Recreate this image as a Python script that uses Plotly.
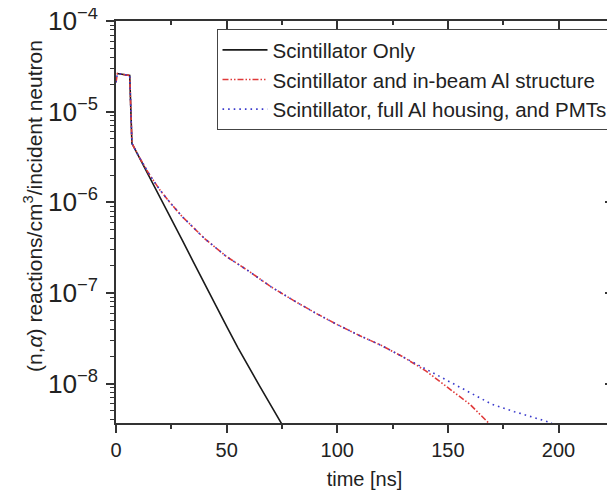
import plotly.graph_objects as go

# ---- data ----
t_only = [0.5, 3.0, 6.2, 7.2, 10, 15, 20, 25, 30, 35, 40, 45, 50, 55, 60, 65, 70, 75]
y_only = [2.63e-5, 2.58e-5, 2.51e-5, 4.47e-6, 3.31e-6, 1.95e-6, 1.15e-6, 6.61e-7, 3.80e-7,
          2.19e-7, 1.26e-7, 7.24e-8, 4.27e-8, 2.51e-8, 1.51e-8, 9.33e-9, 5.75e-9, 3.55e-9]

t_inbeam = [0.0, 0.6, 3.0, 6.2, 7.2, 10, 15, 20, 25, 30, 35, 40, 45, 50, 60, 70, 80, 90, 100,
            110, 120, 130, 140, 150, 160, 168.4]
y_inbeam = [2.1e-5, 2.63e-5, 2.58e-5, 2.51e-5, 4.47e-6, 3.31e-6, 2.04e-6, 1.35e-6, 9.55e-7,
            6.92e-7, 5.25e-7, 3.98e-7, 3.16e-7, 2.51e-7, 1.74e-7, 1.17e-7, 8.32e-8, 6.03e-8,
            4.47e-8, 3.39e-8, 2.63e-8, 1.95e-8, 1.38e-8, 9.12e-9, 5.89e-9, 3.67e-9]

t_full = [0.0, 0.6, 3.0, 6.2, 7.2, 10, 15, 20, 25, 30, 35, 40, 45, 50, 60, 70, 80, 90, 100,
          110, 120, 130, 140, 150, 160, 170, 180, 190, 197]
y_full = [2.1e-5, 2.63e-5, 2.58e-5, 2.51e-5, 4.47e-6, 3.31e-6, 2.04e-6, 1.35e-6, 9.55e-7,
          6.92e-7, 5.25e-7, 3.98e-7, 3.16e-7, 2.51e-7, 1.74e-7, 1.17e-7, 8.32e-8, 6.03e-8,
          4.47e-8, 3.39e-8, 2.63e-8, 1.95e-8, 1.45e-8, 1.07e-8, 7.94e-9, 5.89e-9, 4.90e-9,
          4.17e-9, 3.67e-9]

names = ["Scintillator Only",
         "Scintillator and in-beam Al structure",
         "Scintillator, full Al housing, and PMTs"]

x_range = [0, 224.6]
y_range_log = [-8.435, -4]
x_ticks = [0, 50, 100, 150, 200]
y_title = "(n,<i>α</i>) reactions/cm<sup>3</sup>/incident neutron"

FONT = "Liberation Sans, Arial, sans-serif"
AX = "#333333"

fig = go.Figure()
fig.add_trace(go.Scatter(x=t_only, y=y_only, mode="lines", name=names[0],
                         line=dict(color="#1a1a1a", width=1.6)))
fig.add_trace(go.Scatter(x=t_inbeam, y=y_inbeam, mode="lines", name=names[1],
                         line=dict(color="#e03a3a", width=1.6,
                                   dash="6px,2px,1.5px,2px,1.5px,2px")))
fig.add_trace(go.Scatter(x=t_full, y=y_full, mode="lines", name=names[2],
                         line=dict(color="#3a3acc", width=1.6, dash="1.6px,4px")))
# invisible trace to activate the mirrored (top/right) axes
fig.add_trace(go.Scatter(x=t_only, y=y_only, mode="lines", xaxis="x2", yaxis="y2",
                         line=dict(width=0), opacity=0, showlegend=False, hoverinfo="skip"))

# the page places the figure 8px from the top-left corner
fig.update_layout(
    width=607, height=485,
    margin=dict(l=108, r=2, t=13, b=70, autoexpand=False),
    paper_bgcolor="white", plot_bgcolor="white",
    font=dict(family=FONT, size=20, color="#222222"),
    showlegend=True,
    legend=dict(x=0.999, y=0.98, xanchor="right", yanchor="top",
                bgcolor="white", bordercolor="#444444", borderwidth=1,
                font=dict(size=20.5, family=FONT, color="#222222"),
                itemwidth=45, tracegroupgap=0),
    xaxis=dict(range=x_range, tickvals=x_ticks, ticks="outside", ticklen=8, tickwidth=1.5,
               tickcolor=AX, showline=True, linecolor=AX, linewidth=1.5, showgrid=False,
               zeroline=False, tickfont=dict(size=20), automargin=False,
               minor=dict(dtick=25, tick0=0, ticks="outside", ticklen=4, tickcolor=AX,
                          tickwidth=1.5, showgrid=False),
               title=dict(text="time [ns]", font=dict(size=20), standoff=12)),
    xaxis2=dict(range=x_range, overlaying="x", side="top", matches="x",
                tickvals=x_ticks, ticks="inside", ticklen=8, tickwidth=1.5, tickcolor=AX,
                showline=True, linecolor=AX, linewidth=1.5, showgrid=False,
                showticklabels=False, zeroline=False, automargin=False,
                minor=dict(dtick=25, tick0=0, ticks="inside", ticklen=4, tickcolor=AX,
                           tickwidth=1.5, showgrid=False)),
    yaxis=dict(type="log", range=y_range_log, dtick=1, exponentformat="power",
               ticks="outside", ticklen=8, tickwidth=1.5, tickcolor=AX,
               showline=True, linecolor=AX, linewidth=1.5, showgrid=False, zeroline=False,
               tickfont=dict(size=21), ticklabelstandoff=4, automargin=False,
               ticklabeloverflow="allow",
               minor=dict(dtick="D1", ticks="outside", ticklen=4, tickcolor=AX,
                          tickwidth=1, showgrid=False)),
    yaxis2=dict(type="log", range=y_range_log, dtick=1, overlaying="y", side="right",
                matches="y", ticks="inside", ticklen=8, tickwidth=1.5, tickcolor=AX,
                showline=True, linecolor=AX, linewidth=1.5, showgrid=False,
                showticklabels=False, zeroline=False, automargin=False,
                minor=dict(dtick="D1", ticks="inside", ticklen=4, tickcolor=AX,
                           tickwidth=1, showgrid=False)),
    annotations=[dict(text=y_title, textangle=-90, xref="paper", yref="paper",
                      x=-0.167, y=0.54, xanchor="center", yanchor="middle",
                      showarrow=False, font=dict(size=21, family=FONT, color="#222222"))],
)

fig.write_html("out.html")
